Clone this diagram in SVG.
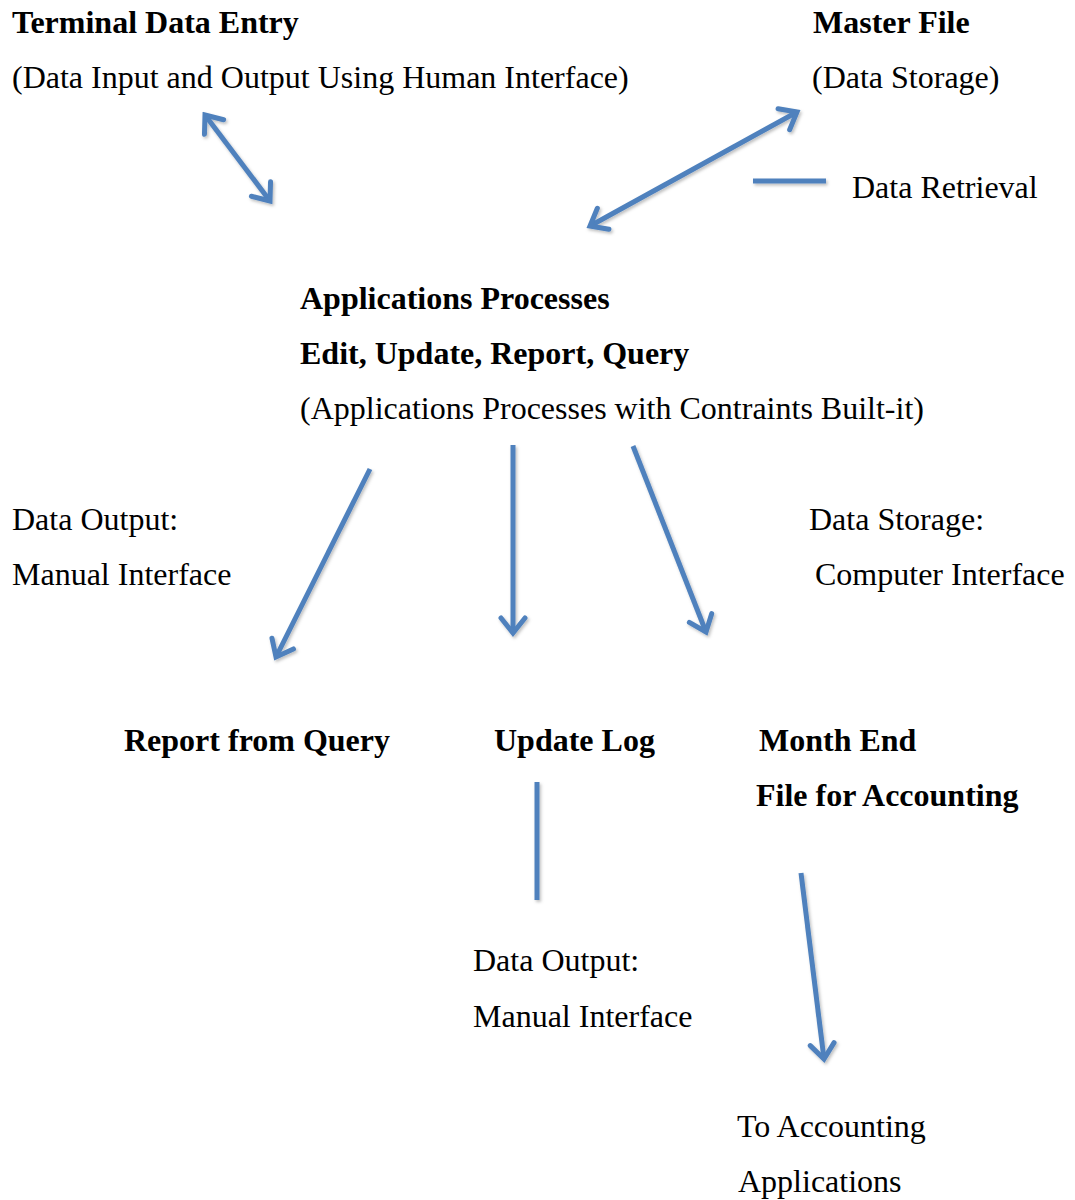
<svg xmlns="http://www.w3.org/2000/svg" width="1075" height="1200" viewBox="0 0 1075 1200">
  <style>
    text { font-family: "Liberation Serif", "Times New Roman", serif; font-size: 32px; fill: #000; }
    .b { font-weight: bold; }
    .conn { stroke: #4F81BD; stroke-width: 5; fill: none; stroke-linecap: butt; filter: url(#shadow); }
  </style>
  <defs>
    <filter id="shadow" filterUnits="userSpaceOnUse" x="0" y="0" width="1075" height="1200">
      <feDropShadow dx="1.5" dy="2" stdDeviation="1.5" flood-color="#000" flood-opacity="0.25"/>
    </filter>
    <marker id="head" viewBox="-20 -15 24 30" markerWidth="24" markerHeight="30" refX="0" refY="0" orient="auto-start-reverse" markerUnits="userSpaceOnUse">
      <path d="M -15 -12 L 0 0 L -15 12" fill="none" stroke="#4F81BD" stroke-width="5" stroke-linecap="round" stroke-linejoin="miter"/>
    </marker>
  </defs>

  <rect width="1075" height="1200" fill="#fff"/>

  <g id="terminal">
    <text class="b" x="12" y="33">Terminal Data Entry</text>
    <text x="12" y="88">(Data Input and Output Using Human Interface)</text>
  </g>

  <g id="master">
    <text class="b" x="813" y="33">Master File</text>
    <text x="812" y="88">(Data Storage)</text>
  </g>

  <g id="legend">
    <line class="conn" x1="753" y1="181" x2="826" y2="181"/>
    <text x="852" y="198">Data Retrieval</text>
  </g>

  <g id="apps">
    <text class="b" x="300" y="309">Applications Processes</text>
    <text class="b" x="300" y="364">Edit, Update, Report, Query</text>
    <text x="300" y="419">(Applications Processes with Contraints Built-it)</text>
  </g>

  <g id="label-manual">
    <text x="12" y="530">Data Output:</text>
    <text x="12" y="585">Manual Interface</text>
  </g>

  <g id="label-computer">
    <text x="809" y="530">Data Storage:</text>
    <text x="815" y="585">Computer Interface</text>
  </g>

  <g id="report">
    <text class="b" x="124" y="751">Report from Query</text>
  </g>

  <g id="updatelog">
    <text class="b" x="494" y="751">Update Log</text>
  </g>

  <g id="monthend">
    <text class="b" x="759" y="751">Month End</text>
    <text class="b" x="756" y="806">File for Accounting</text>
  </g>

  <g id="log-output">
    <text x="473" y="971">Data Output:</text>
    <text x="473" y="1027">Manual Interface</text>
  </g>

  <g id="accounting">
    <text x="737" y="1137">To Accounting</text>
    <text x="738" y="1192">Applications</text>
  </g>

  <g id="connectors">
    <line class="conn" x1="205" y1="115" x2="270" y2="201" marker-start="url(#head)" marker-end="url(#head)"/>
    <line class="conn" x1="797" y1="112" x2="590" y2="226" marker-start="url(#head)" marker-end="url(#head)"/>
    <line class="conn" x1="370" y1="469" x2="276" y2="657" marker-end="url(#head)"/>
    <line class="conn" x1="513" y1="445" x2="513" y2="633" marker-end="url(#head)"/>
    <line class="conn" x1="633" y1="446" x2="706" y2="632" marker-end="url(#head)"/>
    <line class="conn" x1="537" y1="782" x2="537" y2="900"/>
    <line class="conn" x1="801" y1="873" x2="824" y2="1059" marker-end="url(#head)"/>
  </g>
</svg>
